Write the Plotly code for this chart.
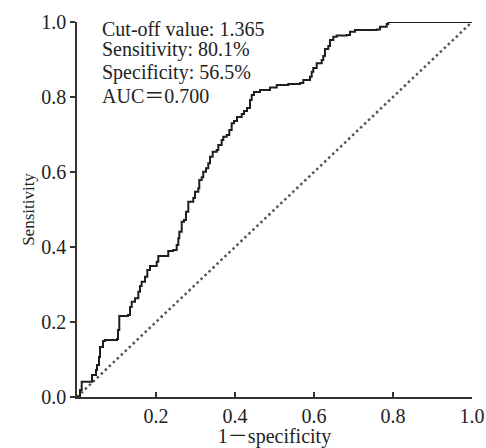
import plotly.graph_objects as go

fpr = [0.0, 0.0076, 0.0119, 0.0286, 0.0380, 0.0481, 0.0506, 0.0557, 0.0582, 0.0658, 0.0709,
       0.1013, 0.1038, 0.1071, 0.1291, 0.1342, 0.1385, 0.1468, 0.1552, 0.1595, 0.1637,
       0.1722, 0.1780, 0.1848, 0.2018, 0.2058, 0.2271, 0.2311, 0.2438, 0.2524, 0.2565,
       0.2590, 0.2651, 0.2709, 0.2759, 0.2818, 0.2944, 0.2987, 0.3071, 0.3096, 0.3157,
       0.3197, 0.3266, 0.3324, 0.3367, 0.3435, 0.3537, 0.3577, 0.3663, 0.3704, 0.3790,
       0.3856, 0.3916, 0.3975, 0.4051, 0.4170, 0.4228, 0.4304, 0.4380, 0.4423, 0.4481,
       0.4633, 0.4886, 0.5056, 0.5349, 0.5646, 0.5729, 0.5899, 0.5942, 0.5982, 0.6068,
       0.6195, 0.6235, 0.6278, 0.6362, 0.6405, 0.6489, 0.6575, 0.6828, 0.6911, 0.7038,
       0.7587, 0.7671, 0.7841, 0.7881, 1.0]
tpr = [0.0, 0.0187, 0.0408, 0.0408, 0.0587, 0.0720, 0.0853, 0.1067, 0.1333, 0.1493, 0.1520,
       0.1547, 0.1787, 0.2160, 0.2187, 0.2400, 0.2541, 0.2632, 0.2808, 0.2960, 0.3075,
       0.3208, 0.3387, 0.3493, 0.3608, 0.3760, 0.3760, 0.3893, 0.3920, 0.4053, 0.4232,
       0.4408, 0.4675, 0.4720, 0.4941, 0.5208, 0.5307, 0.5475, 0.5565, 0.5787, 0.5859,
       0.6008, 0.6099, 0.6232, 0.6408, 0.6541, 0.6587, 0.6720, 0.6853, 0.6941, 0.6987,
       0.7120, 0.7299, 0.7360, 0.7467, 0.7547, 0.7627, 0.7707, 0.7920, 0.8053, 0.8133,
       0.8187, 0.8253, 0.8320, 0.8347, 0.8373, 0.8453, 0.8541, 0.8675, 0.8773, 0.8899,
       0.8987, 0.9093, 0.9280, 0.9360, 0.9520, 0.9608, 0.9640, 0.9653, 0.9741, 0.9787,
       0.9800, 0.9875, 0.9947, 1.0, 1.0]

ref_x = [0, 1]
ref_y = [0, 1]

x_ticks = [0.2, 0.4, 0.6, 0.8, 1.0]
x_tick_labels = ["0.2", "0.4", "0.6", "0.8", "1.0"]
y_ticks = [0.0, 0.2, 0.4, 0.6, 0.8, 1.0]
y_tick_labels = ["0.0", "0.2", "0.4", "0.6", "0.8", "1.0"]

info_lines = ["Cut-off value: 1.365", "Sensitivity: 80.1%", "Specificity: 56.5%", "AUC\uff1d0.700"]
info_y = [0.981, 0.928, 0.866, 0.803]

FONT = "Liberation Serif, Noto Sans CJK SC, serif"
INK = "#222222"

fig = go.Figure()
fig.add_trace(go.Scatter(x=ref_x, y=ref_y, mode="lines",
                         line=dict(color="#555555", width=2.5, dash="2.5px,3px"),
                         showlegend=False, hoverinfo="skip"))
fig.add_trace(go.Scatter(x=fpr, y=tpr, mode="lines", line_shape="hv",
                         line=dict(color="#1e1e1e", width=2),
                         showlegend=False))

for txt, yy in zip(info_lines, info_y):
    fig.add_annotation(x=0.058, y=yy, xref="x", yref="y", text=txt, showarrow=False,
                       xanchor="left", yanchor="middle",
                       font=dict(family=FONT, size=20, color=INK))

fig.update_layout(
    width=486, height=448,
    margin=dict(l=77, r=14, t=22, b=51),
    plot_bgcolor="white", paper_bgcolor="white",
    font=dict(family=FONT, size=18, color=INK),
)
fig.update_xaxes(range=[0, 1], tickvals=x_ticks, ticktext=x_tick_labels,
                 ticks="inside", ticklen=5, tickwidth=1.5, tickcolor="#333333",
                 showline=True, linecolor="#333333", linewidth=1.5,
                 showgrid=False, zeroline=False, automargin=False,
                 tickfont=dict(family=FONT, size=20, color=INK),
                 title=dict(text="1\uff0dspecificity", font=dict(family=FONT, size=20, color=INK), standoff=2))
fig.update_yaxes(range=[0, 1], tickvals=y_ticks, ticktext=y_tick_labels,
                 ticks="outside", ticklen=5, tickwidth=1.5, tickcolor="#333333",
                 showline=True, linecolor="#333333", linewidth=1.5,
                 showgrid=False, zeroline=False, automargin=False,
                 tickfont=dict(family=FONT, size=20, color=INK),
                 title=dict(text="Sensitivity", font=dict(family=FONT, size=17, color=INK), standoff=2))

fig.write_html("out.html", config={"displayModeBar": False},
               post_script="document.body.style.margin='0';document.body.style.overflow='hidden';")
